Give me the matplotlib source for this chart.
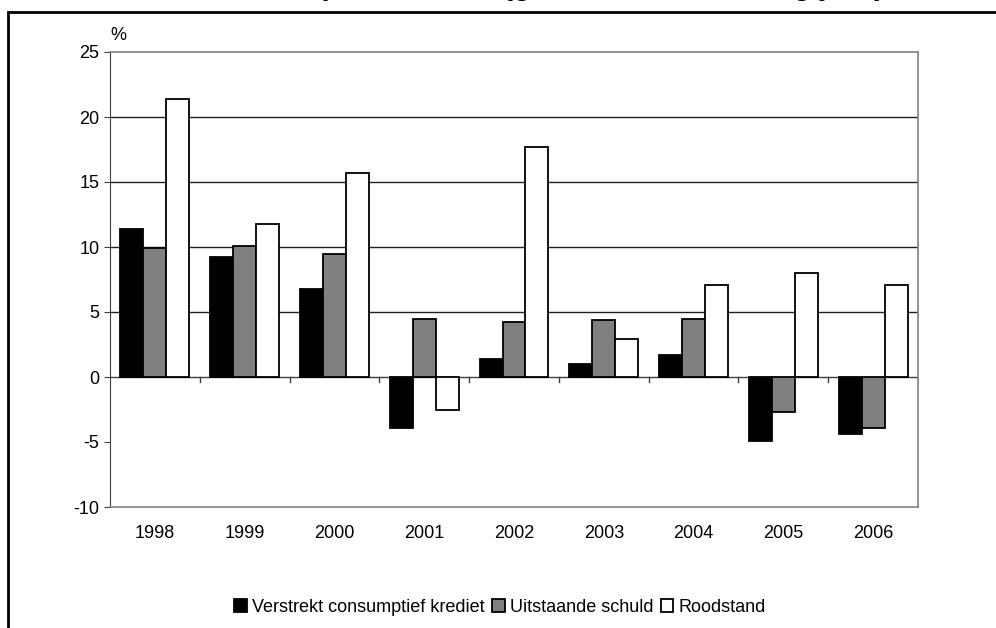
import numpy as np
import matplotlib
matplotlib.use("Agg")
import matplotlib.pyplot as plt
from matplotlib.patches import Rectangle

plt.rcParams['font.family'] = ['Liberation Sans', 'DejaVu Sans']

# data (%)
years = ['1998', '1999', '2000', '2001', '2002', '2003', '2004', '2005', '2006']
krediet = [11.4, 9.2, 6.8, -3.9, 1.4, 1.0, 1.7, -4.9, -4.4]
schuld = [9.9, 10.1, 9.5, 4.5, 4.2, 4.4, 4.5, -2.7, -3.9]
roodstand = [21.4, 11.8, 15.7, -2.5, 17.7, 2.9, 7.1, 8.0, 7.1]
labels = ['Verstrekt consumptief krediet', 'Uitstaande schuld', 'Roodstand']

fig = plt.figure(figsize=(9.96, 6.28), dpi=100)

# outer frame (cut off on the right and bottom)
fig.patches.append(Rectangle((8/996, -0.1), 1.2, 1 - 12/628 + 0.1, transform=fig.transFigure,
                             fill=False, edgecolor='black', linewidth=2))

# title, cut off at the top (only the descenders show)
fig.text(500/996, 1 + 6/628, 'Groei consumptief krediet (groeivoet t.o.v. vorig jaar)',
         ha='center', va='baseline', fontsize=22, fontweight='bold')

ax = fig.add_axes([110/996, 1 - 507/628, (918-110)/996, (507-52)/628])

x = np.arange(len(years))
w = 0.256
ax.bar(x - w, krediet, w, color='black', edgecolor='black', linewidth=1.3, label=labels[0], zorder=3)
ax.bar(x, schuld, w, color='#808080', edgecolor='black', linewidth=1.3, label=labels[1], zorder=3)
ax.bar(x + w, roodstand, w, color='white', edgecolor='black', linewidth=1.3, label=labels[2], zorder=3)

ax.set_xlim(-0.5, len(years) - 0.5)
ax.set_ylim(-10, 25)
ax.set_yticks(np.arange(-10, 26, 5))
ax.set_yticklabels([str(v) for v in range(-10, 26, 5)])
for v in range(5, 25, 5):
    ax.axhline(v, color='#202020', linewidth=1, zorder=1)

for s in ['top', 'right', 'bottom']:
    ax.spines[s].set_color('#808080')
    ax.spines[s].set_linewidth(1.2)
ax.spines['left'].set_color('#404040')
ax.axhline(0, color='#404040', linewidth=1, zorder=2)

# x tick marks between categories, on the zero line
for b in np.arange(0.5, len(years) - 0.5, 1):
    ax.plot([b, b], [0, -0.35], color='#404040', linewidth=1, zorder=2)
ax.set_xticks([])
for i, yr in enumerate(years):
    ax.text(i, -11.4, yr, ha='center', va='top', fontsize=13)

ax.tick_params(axis='y', direction='out', length=4, labelsize=13, color='#404040')
ax.text(-0.5, 25.6, '%', fontsize=13, ha='left', va='bottom')

fig.legend(loc='center', bbox_to_anchor=(500/996, 1 - 607/628), ncol=3, frameon=False,
           fontsize=13, handlelength=0.7, handleheight=0.7, handletextpad=0.3,
           columnspacing=0.4, borderaxespad=0)

fig.savefig('out.png', dpi=100)
